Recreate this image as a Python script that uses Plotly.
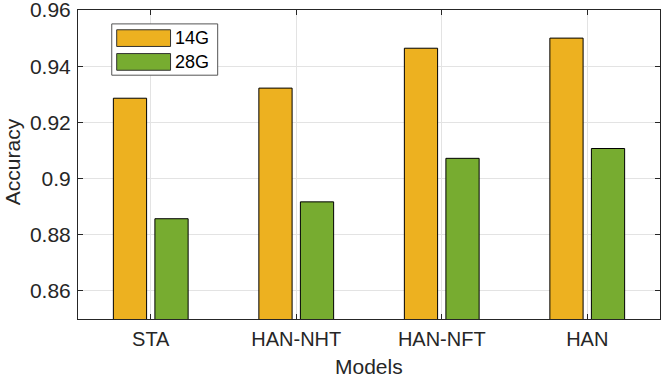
import plotly.graph_objects as go

# data
models = ["STA", "HAN-NHT", "HAN-NFT", "HAN"]
acc_14g = [0.9286, 0.9322, 0.9464, 0.9500]
acc_28g = [0.8857, 0.8917, 0.9072, 0.9107]
y_ticks = [0.86, 0.88, 0.90, 0.92, 0.94, 0.96]
y_tick_text = ["0.86", "0.88", "0.9", "0.92", "0.94", "0.96"]

ORANGE = "#EDB120"
GREEN = "#77AC30"
AXIS = "#262626"
GRID = "#e3e3e3"
FONT = "Liberation Sans, Arial, sans-serif"

fig = go.Figure()
fig.add_trace(go.Bar(x=models, y=acc_14g, name="14G", marker=dict(color=ORANGE, line=dict(color="black", width=1))))
fig.add_trace(go.Bar(x=models, y=acc_28g, name="28G", marker=dict(color=GREEN, line=dict(color="black", width=1))))

fig.update_layout(
    width=664, height=378,
    margin=dict(l=78, r=4, t=10, b=59),
    barmode="group", bargap=0.429, bargroupgap=0.2,
    plot_bgcolor="white", paper_bgcolor="white",
    font=dict(family=FONT, size=20, color=AXIS),
    showlegend=False,
)

fig.update_xaxes(
    range=[-0.5, 3.5], showline=True, linecolor=AXIS, linewidth=1, mirror="allticks",
    ticks="inside", ticklen=5, tickcolor=AXIS, showgrid=True, gridcolor=GRID,
    tickfont=dict(size=20), automargin=False, ticklabelstandoff=2,
)
fig.update_yaxes(
    range=[0.85, 0.96001], showline=True, linecolor=AXIS, linewidth=1, mirror="allticks",
    ticks="inside", ticklen=5, tickcolor=AXIS, showgrid=True, gridcolor=GRID,
    tickvals=y_ticks, ticktext=y_tick_text, tickfont=dict(size=21),
    zeroline=False, automargin=False, ticklabelstandoff=2, ticklabeloverflow="allow",
)

# axis titles
fig.add_annotation(xref="paper", yref="paper", x=0.5, y=-0.154, text="Models", showarrow=False,
                   xanchor="center", yanchor="middle", font=dict(size=21, color=AXIS))
fig.add_annotation(xref="paper", yref="paper", x=-0.112, y=0.51, text="Accuracy", showarrow=False,
                   textangle=-90, xanchor="center", yanchor="middle", font=dict(size=21, color=AXIS))

# MATLAB-style legend box with wide swatches
fig.add_shape(type="rect", xref="paper", yref="paper", x0=0.058, x1=0.240, y0=0.789, y1=0.955,
              line=dict(color="#555555", width=1), fillcolor="white", layer="above")
for i, (name, col) in enumerate([("14G", ORANGE), ("28G", GREEN)]):
    yc = 0.909 - i * 0.077
    fig.add_shape(type="rect", xref="paper", yref="paper", x0=0.0665, x1=0.159, y0=yc - 0.027, y1=yc + 0.027,
                  line=dict(color="#333333", width=1), fillcolor=col, layer="above")
    fig.add_annotation(xref="paper", yref="paper", x=0.163, y=yc, text=name, showarrow=False,
                       xanchor="left", yanchor="middle", font=dict(size=18, color="black"))

fig.write_html("out.html", config={"displayModeBar": False},
               post_script="document.body.style.margin='0';")
